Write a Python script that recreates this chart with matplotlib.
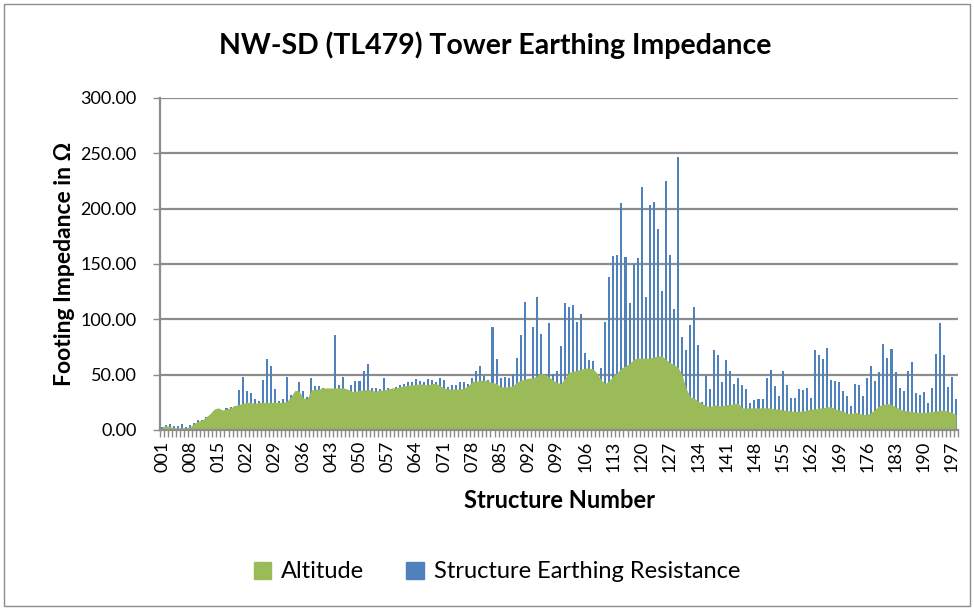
import matplotlib.pyplot as plt
import matplotlib.patches as mpatches
import numpy as np

# structure earthing resistance (ohm), structures 001..198
resistance = [3, 4.5, 5, 4, 4, 5, 3, 4.5, 6, 9, 9, 12, 13, 17, 18, 17, 20, 21, 22, 36,
              48, 35, 33, 28, 26, 45, 64, 58, 37, 26, 28, 48, 32, 30, 43, 35, 30, 47, 40, 40,
              38, 37, 36, 86, 41, 48, 36, 41, 44, 44, 53, 60, 38, 38, 37, 47, 38, 37, 39, 41,
              42, 43, 43, 46, 44, 43, 46, 45, 43, 47, 45, 39, 41, 41, 43, 43, 42, 47, 53, 58,
              49, 45, 93, 64, 47, 48, 47, 51, 65, 86, 116, 45, 93, 120, 87, 48, 97, 51, 53, 76,
              115, 111, 113, 98, 105, 70, 63, 62, 50, 56, 98, 138, 157, 158, 205, 156, 115, 150, 155, 220,
              120, 203, 206, 182, 126, 225, 158, 109, 247, 84, 72, 95, 111, 77, 25, 49, 37, 72, 68, 43,
              63, 53, 42, 47, 41, 37, 24, 27, 28, 28, 47, 54, 40, 31, 53, 41, 29, 29, 37, 36,
              38, 29, 72, 68, 64, 74, 45, 44, 43, 35, 31, 22, 42, 41, 31, 47, 58, 44, 52, 78,
              65, 73, 52, 38, 35, 53, 61, 33, 32, 34, 24, 38, 69, 97, 68, 39, 48, 28]

# altitude series (same scale)
altitude = [3, 4, 3, 2, 2, 2, 2, 3, 6, 8, 9, 12, 15, 19, 20, 18, 19, 20, 22, 23,
            24, 25, 25, 24, 25, 25, 25, 25, 25, 25, 25, 26, 30, 36, 35, 29, 28, 36, 37, 37,
            38, 38, 38, 38, 38, 38, 37, 35, 35, 36, 36, 37, 36, 35, 36, 36, 37, 38, 38, 39,
            40, 40, 41, 41, 42, 41, 41, 42, 42, 40, 38, 37, 37, 37, 37, 38, 40, 44, 44, 45,
            45, 44, 43, 42, 39, 39, 39, 40, 43, 45, 46, 47, 47, 49, 51, 50, 48, 45, 43, 42,
            47, 52, 53, 54, 55, 56, 56, 55, 51, 45, 42, 45, 49, 52, 56, 58, 60, 64, 65, 65,
            65, 65, 66, 67, 67, 64, 61, 59, 57, 50, 38, 30, 29, 26, 24, 22, 21, 23, 22, 22,
            23, 23, 24, 24, 20, 20, 20, 20, 20, 20, 20, 20, 19, 19, 18, 18, 17, 17, 17, 17,
            18, 19, 19, 20, 20, 21, 21, 19, 18, 17, 15, 15, 16, 15, 14, 14, 16, 19, 22, 23,
            24, 23, 21, 19, 18, 17, 17, 16, 16, 16, 16, 17, 17, 18, 18, 17, 16, 14]

structures = np.arange(1, len(resistance) + 1)
label_every = 7

green = '#9BBB59'
blue = '#4F81BD'
grid_gray = '#8C8C8C'
font = 'Lato'

plt.rcParams['font.family'] = [font, 'DejaVu Sans']

fig = plt.figure(figsize=(9.74, 6.10), dpi=100)
ax = fig.add_axes([160/974, 1-430/610, (958-160)/974, (430-98)/610])

ax.bar(structures, resistance, width=0.5, color=blue, linewidth=0, zorder=2)
ax.fill_between(structures, altitude, 0, color=green, linewidth=0, zorder=3)

ax.set_xlim(0.5, len(structures) + 0.5)
ax.set_ylim(0, 300)
ax.set_yticks(np.arange(0, 301, 50))
ax.set_yticklabels([f'{v:.2f}' for v in np.arange(0, 301, 50)], fontsize=13)
ax.yaxis.grid(True, color=grid_gray, linewidth=1.6, zorder=0)
ax.set_axisbelow(True)

tick_pos = structures[::label_every]
ax.set_xticks(tick_pos)
ax.set_xticklabels([f'{s:03d}' for s in tick_pos], rotation=90, fontsize=13)
ax.set_xticks(np.arange(0.5, len(structures) + 1, 1), minor=True)
ax.tick_params(axis='x', which='major', length=0, pad=8)
ax.tick_params(axis='x', which='minor', length=5, color=grid_gray, width=1)
ax.tick_params(axis='y', length=5, color=grid_gray, width=1, pad=12)

for side in ['top', 'right']:
    ax.spines[side].set_visible(False)
for side in ['left', 'bottom']:
    ax.spines[side].set_color(grid_gray)
    ax.spines[side].set_linewidth(1.6)
    ax.spines[side].set_zorder(4)

ax.set_ylabel('Footing Impedance in Ω', fontsize=16.5, fontweight='bold', labelpad=4)
ax.set_xlabel('Structure Number', fontsize=17, fontweight='bold', labelpad=12)
fig.text(0.508, 1-45/610, 'NW-SD (TL479) Tower Earthing Impedance', ha='center', va='center',
         fontsize=20.5, fontweight='bold')

handles = [mpatches.Patch(color=green, label='Altitude'),
           mpatches.Patch(color=blue, label='Structure Earthing Resistance')]
fig.legend(handles=handles, loc='center', bbox_to_anchor=(0.51, 1-572/610), ncol=2,
           frameon=False, fontsize=17, handlelength=0.75, handleheight=0.75,
           handletextpad=0.4, columnspacing=1.8)

fig.patches.append(mpatches.Rectangle((4/974, 4/610), 966/974, 602/610, transform=fig.transFigure,
                                      fill=False, edgecolor='#8C8C8C', linewidth=1))

fig.savefig('out.png', dpi=100)
